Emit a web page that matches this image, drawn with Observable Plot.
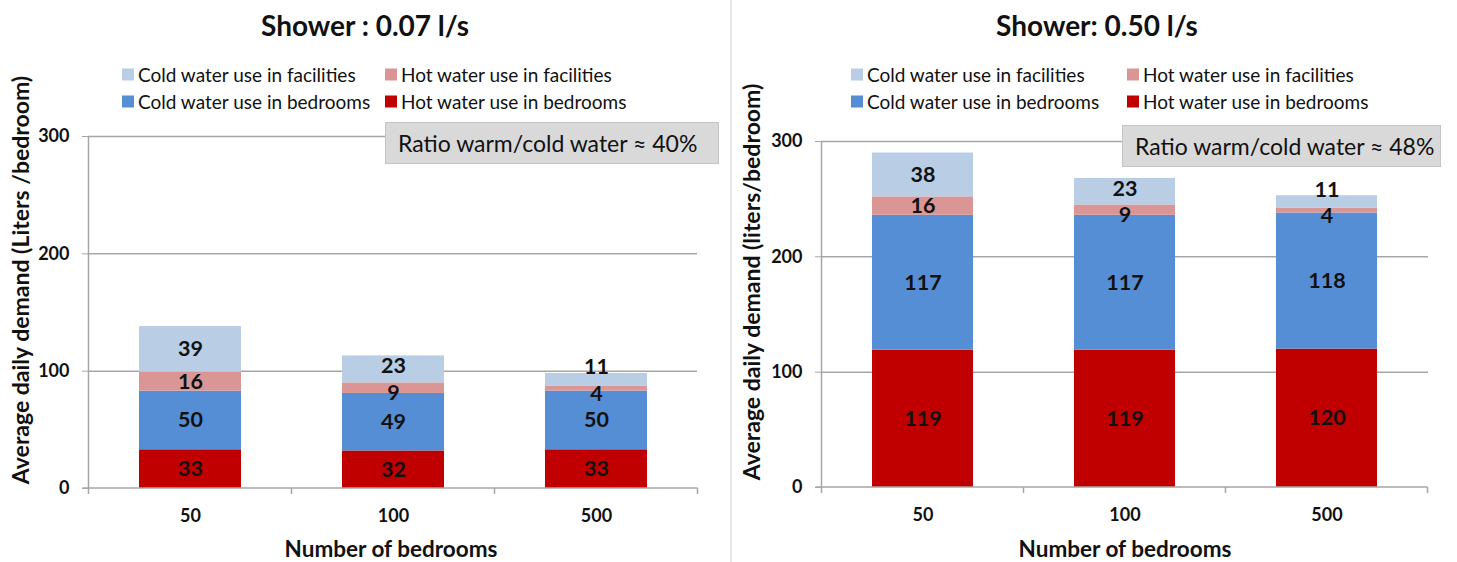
<!DOCTYPE html>
<html><head><meta charset="utf-8">
<script src="https://cdn.jsdelivr.net/npm/d3@7"></script>
<script src="https://cdn.jsdelivr.net/npm/@observablehq/plot@0.6"></script>
<style>
body{margin:0;background:#fff;font-family:Lato,"Open Sans",sans-serif;color:#111}
#root{position:relative;width:1457px;height:562px;overflow:hidden;background:#fff}
.abs{position:absolute;white-space:nowrap}
.ctr{transform:translate(-50%,-50%)}
.title{font-size:28px;font-weight:bold}
.axt{font-size:22.5px;font-weight:bold}
.ylab{font-size:23px;font-weight:bold;transform:translate(-50%,-50%) rotate(-90deg)}
.leg{font-size:19px;display:flex;align-items:center;transform:translateY(-50%)}
.sw{width:12px;height:12px;margin-right:4px;display:inline-block}
.ratio{background:#d9d9d9;border:1.5px solid #c4c4c4;font-size:23px;box-sizing:border-box;display:flex;align-items:center;padding-left:12px}
.sep{position:absolute;left:730px;top:0;width:1.5px;height:562px;background:#e6e6e6}
</style></head><body><div id="root"><div class="sep"></div></div>
<script>
const categories = ["50", "100", "500"];
const seriesNames = ["Hot water use in bedrooms", "Cold water use in bedrooms", "Hot water use in facilities", "Cold water use in facilities"];
const seriesColors = ["#c00000", "#558ed5", "#d99694", "#b9cde5"];
const yTicks = [0, 100, 200, 300];

// Shower 0.07 l/s
const low_hotBedrooms = [33, 32, 33];
const low_coldBedrooms = [50, 49, 50];
const low_hotFacilities = [16, 9, 4];
const low_coldFacilities = [39, 23, 11];

// Shower 0.50 l/s
const high_hotBedrooms = [119, 119, 120];
const high_coldBedrooms = [117, 117, 118];
const high_hotFacilities = [16, 9, 4];
const high_coldFacilities = [38, 23, 11];

const root = document.getElementById("root");

function el(cls, text, style) {
  const d = document.createElement("div");
  d.className = "abs " + cls;
  if (text != null) d.textContent = text;
  Object.assign(d.style, style);
  root.appendChild(d);
  return d;
}

// label placement rules (Excel-like nudges for thin segments)
const isTopSmall = d => d.series === seriesNames[3] && d.value < 15;
const isTopMid = d => d.series === seriesNames[3] && d.value >= 15 && d.value < 30;
const isThinHot = d => d.series === seriesNames[2] && d.value < 10;

function panel(cfg) {
  const vals = [cfg.hotB, cfg.coldB, cfg.hotF, cfg.coldF];
  const rows = [];
  categories.forEach((c, i) => seriesNames.forEach((s, j) => rows.push({cat: c, series: s, value: vals[j][i]})));
  const lbl = {fontSize: 21.5, fontWeight: "bold", fill: "#111"};
  const st = {x: "cat", y: "value", z: "series", order: seriesNames};

  const plot = Plot.plot({
    width: cfg.width, height: 562,
    marginLeft: cfg.ml, marginRight: cfg.mr, marginTop: cfg.mt, marginBottom: cfg.mb,
    style: {fontFamily: "Lato, 'Open Sans', sans-serif", background: "transparent", color: "#111"},
    x: {domain: categories, paddingInner: 0.5, paddingOuter: 0.25, axis: null},
    y: {domain: [0, 300], axis: null},
    color: {domain: seriesNames, range: seriesColors},
    marks: [
      Plot.gridY(yTicks.filter(d => d > 0), {stroke: "#a6a6a6", strokeOpacity: 1, strokeWidth: 1.5}),
      Plot.barY(rows, {x: "cat", y: "value", fill: "series", z: "series", order: seriesNames}),
      Plot.axisY({ticks: yTicks, tickSize: 6, tickPadding: 13, stroke: "#a6a6a6", fontSize: 18, fontWeight: "bold", label: null}),
      Plot.text(rows, Plot.stackY({...st, text: d => (isTopSmall(d) || isThinHot(d) || isTopMid(d)) ? null : d.value, ...lbl})),
      Plot.text(rows, Plot.stackY({...st, text: d => isTopMid(d) ? d.value : null, dy: -3, ...lbl})),
      Plot.text(rows, Plot.stackY({...st, text: d => isThinHot(d) ? d.value : null, dy: 5, ...lbl})),
      Plot.text(rows, Plot.stackY2({...st, text: d => isTopSmall(d) ? d.value : null, dy: -6, ...lbl})),
      Plot.axisX({tickSize: 0, tickPadding: 21, fontSize: 18, fontWeight: "bold", label: null})
    ]
  });

  const svg = d3.select(plot);
  svg.style("position", "absolute").style("left", cfg.left + "px").style("top", "0px").style("overflow", "visible");
  const xs = plot.scale("x"), ys = plot.scale("y");
  const step = xs.step ?? (xs.range[1] - xs.range[0]) / categories.length;
  const bw = xs.bandwidth;
  const x0 = xs.apply(categories[0]) - (step - bw) / 2;
  const xEnd = x0 + step * categories.length;
  const y0 = ys.apply(0), yT = ys.apply(300);
  const g = svg.append("g").attr("stroke", "#a6a6a6").attr("stroke-width", 1.5);
  g.append("line").attr("x1", x0).attr("x2", x0).attr("y1", yT).attr("y2", y0);
  g.append("line").attr("x1", x0 - 6).attr("x2", xEnd).attr("y1", y0).attr("y2", y0);
  for (let i = 0; i <= categories.length; i++) {
    const bx = x0 + i * step;
    g.append("line").attr("x1", bx).attr("x2", bx).attr("y1", y0).attr("y2", y0 + 6);
  }
  svg.selectAll("text").attr("fill", "#111");
  root.appendChild(plot);

  // overlays
  el("title ctr", cfg.title, {left: cfg.titleX + "px", top: "25px"});
  el("ylab", cfg.ylabel, {left: cfg.ylabX + "px", top: cfg.ylabY + "px"});
  el("axt ctr", "Number of bedrooms", {left: cfg.xlabX + "px", top: "548px"});
  const legendOrder = [[3, cfg.legX[0], 74], [2, cfg.legX[1], 74], [1, cfg.legX[0], 101], [0, cfg.legX[1], 101]];
  legendOrder.forEach(([si, lx, ly]) => {
    const d = el("leg", null, {left: lx + "px", top: ly + "px"});
    const s = document.createElement("span");
    s.className = "sw"; s.style.background = seriesColors[si];
    d.appendChild(s);
    d.appendChild(document.createTextNode(seriesNames[si]));
  });
  el("ratio", cfg.ratio, {left: cfg.rb[0] + "px", top: cfg.rb[1] + "px", width: cfg.rb[2] + "px", height: cfg.rb[3] + "px"});
}

panel({
  left: 0, width: 728, ml: 88, mr: 31, mt: 136, mb: 74,
  hotB: low_hotBedrooms, coldB: low_coldBedrooms, hotF: low_hotFacilities, coldF: low_coldFacilities,
  title: "Shower : 0.07 l/s", titleX: 365,
  ylabel: "Average daily demand (Liters /bedroom)", ylabX: 20, ylabY: 280,
  xlabX: 391, legX: [122, 385],
  ratio: "Ratio warm/cold water \u2248 40%", rb: [385, 122, 334, 42]
});

panel({
  left: 730, width: 727, ml: 91, mr: 29, mt: 141, mb: 75,
  hotB: high_hotBedrooms, coldB: high_coldBedrooms, hotF: high_hotFacilities, coldF: high_coldFacilities,
  title: "Shower: 0.50 l/s", titleX: 1097,
  ylabel: "Average daily demand (liters/bedroom)", ylabX: 751, ylabY: 282,
  xlabX: 1125, legX: [851, 1127],
  ratio: "Ratio warm/cold water \u2248 48%", rb: [1122, 125, 319, 42]
});
</script></body></html>
